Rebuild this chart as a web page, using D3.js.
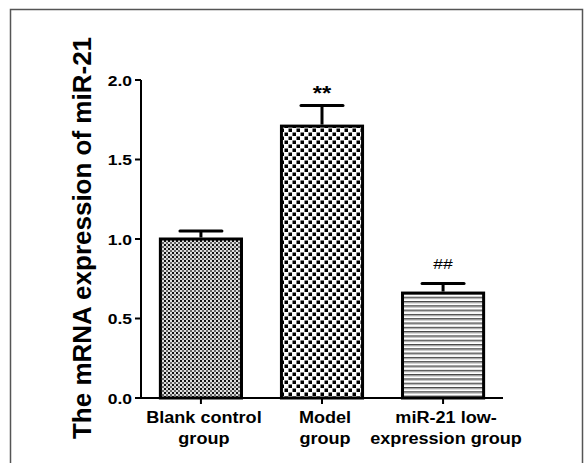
<!DOCTYPE html>
<html>
<head>
<meta charset="utf-8">
<script src="https://cdn.jsdelivr.net/npm/d3@7"></script>
<style>
  body { margin: 0; background: #fff; }
  text { font-family: "Liberation Sans", Arial, sans-serif; font-weight: bold; fill: #000; }
</style>
</head>
<body>
<div id="chart"></div>
<script>
// data
const groups = ['Blank control group', 'Model group', 'miR-21 low-expression group'];
const labelLines = [['Blank control', 'group'], ['Model', 'group'], ['miR-21 low-', 'expression group']];
const means = [1.00, 1.71, 0.66];
const errors = [0.05, 0.13, 0.06];
const marks = ['', '**', '##'];
const yTicks = [0, 0.5, 1.0, 1.5, 2.0];
const patterns = ['fine-check', 'coarse-check', 'hlines'];

const width = 588, height = 463;
const stretch = 1.13; // text in the figure is slightly widened

const svg = d3.select('#chart').append('svg')
  .attr('width', width)
  .attr('height', height);

// outer frame
svg.append('path')
  .attr('d', 'M10.5,470 V9.5 H582.5 V470')
  .attr('fill', 'none')
  .attr('stroke', '#555')
  .attr('stroke-width', 1.5);

const defs = svg.append('defs');

let p1 = defs.append('pattern').attr('id', 'fine-check')
  .attr('patternUnits', 'userSpaceOnUse').attr('width', 4).attr('height', 4);
p1.append('rect').attr('width', 4).attr('height', 4).attr('fill', '#ddd');
p1.append('rect').attr('width', 2).attr('height', 2).attr('fill', '#111');
p1.append('rect').attr('x', 2).attr('y', 2).attr('width', 2).attr('height', 2).attr('fill', '#666');

let p2 = defs.append('pattern').attr('id', 'coarse-check')
  .attr('patternUnits', 'userSpaceOnUse').attr('width', 8).attr('height', 8);
p2.append('rect').attr('width', 8).attr('height', 8).attr('fill', '#fff');
p2.append('rect').attr('x', 0.5).attr('y', 0.5).attr('width', 3.5).attr('height', 3.5).attr('fill', '#000');
p2.append('rect').attr('x', 4.5).attr('y', 4.5).attr('width', 3.5).attr('height', 3.5).attr('fill', '#000');

let p3 = defs.append('pattern').attr('id', 'hlines')
  .attr('patternUnits', 'userSpaceOnUse').attr('width', 8).attr('height', 4.3);
p3.append('rect').attr('width', 8).attr('height', 4.3).attr('fill', '#fff');
p3.append('rect').attr('width', 8).attr('height', 1.4).attr('fill', '#444');
p3.append('rect').attr('y', 1.4).attr('width', 8).attr('height', 1).attr('fill', '#bbb');

// scales
let x = d3.scaleBand()
  .domain(groups)
  .range([141, 503])
  .paddingInner(0.33)
  .paddingOuter(0.16);

let y = d3.scaleLinear()
  .domain([0, 2])
  .range([398, 80]);

// helper for widened text
function stext(g, tx, ty, str, size, anchor) {
  return g.append('text')
    .attr('transform', `translate(${tx},${ty}) scale(${stretch},1)`)
    .attr('text-anchor', anchor || 'middle')
    .style('font-size', size + 'px')
    .text(str);
}

// bars
svg.append('g')
  .selectAll('rect')
  .data(groups)
  .enter().append('rect')
  .attr('x', d => x(d))
  .attr('y', (d, i) => y(means[i]))
  .attr('width', x.bandwidth())
  .attr('height', (d, i) => y(0) - y(means[i]))
  .attr('fill', (d, i) => `url(#${patterns[i]})`)
  .attr('stroke', '#000')
  .attr('stroke-width', 3);

// error bars (upper only)
let err = svg.append('g').attr('stroke', '#000').attr('stroke-width', 3);
groups.forEach((g, i) => {
  const cx = x(g) + x.bandwidth() / 2;
  err.append('line')
    .attr('x1', cx).attr('x2', cx)
    .attr('y1', y(means[i]) - 1.5).attr('y2', y(means[i] + errors[i]));
  err.append('line')
    .attr('x1', cx - 21).attr('x2', cx + 21)
    .attr('y1', y(means[i] + errors[i])).attr('y2', y(means[i] + errors[i]))
    .attr('stroke-linecap', 'round');
});

// significance marks
groups.forEach((g, i) => {
  if (!marks[i]) return;
  const cx = x(g) + x.bandwidth() / 2;
  const top = y(means[i] + errors[i]);
  if (marks[i] === '**') {
    stext(svg, cx, top - 5, marks[i], 21);
  } else {
    stext(svg, cx, top - 15, marks[i], 15.5).style('font-weight', 'normal');
  }
});

// y axis
let yAxis = svg.append('g');
yAxis.append('line')
  .attr('x1', 141).attr('x2', 141)
  .attr('y1', y(2)).attr('y2', y(0) + 1)
  .attr('stroke', '#000').attr('stroke-width', 2);
yTicks.forEach(t => {
  yAxis.append('line')
    .attr('x1', 135).attr('x2', 141)
    .attr('y1', y(t)).attr('y2', y(t))
    .attr('stroke', '#000').attr('stroke-width', 2);
  stext(yAxis, 132, y(t) + 5.5, d3.format('.1f')(t), 15.5, 'end');
});

// x axis
let xAxis = svg.append('g');
xAxis.append('line')
  .attr('x1', 140).attr('x2', 503)
  .attr('y1', y(0)).attr('y2', y(0))
  .attr('stroke', '#000').attr('stroke-width', 2);
groups.forEach((g, i) => {
  const cx = x(g) + x.bandwidth() / 2;
  xAxis.append('line')
    .attr('x1', cx).attr('x2', cx)
    .attr('y1', y(0)).attr('y2', y(0) + 6)
    .attr('stroke', '#000').attr('stroke-width', 2);
  labelLines[i].forEach((line, j) => {
    stext(xAxis, cx + 3, 423 + j * 21, line, 16);
  });
});

// y title
svg.append('text')
  .attr('transform', 'translate(91,238) rotate(-90)')
  .attr('text-anchor', 'middle')
  .style('font-size', '26px')
  .text('The mRNA expression of miR-21');
</script>
</body>
</html>
